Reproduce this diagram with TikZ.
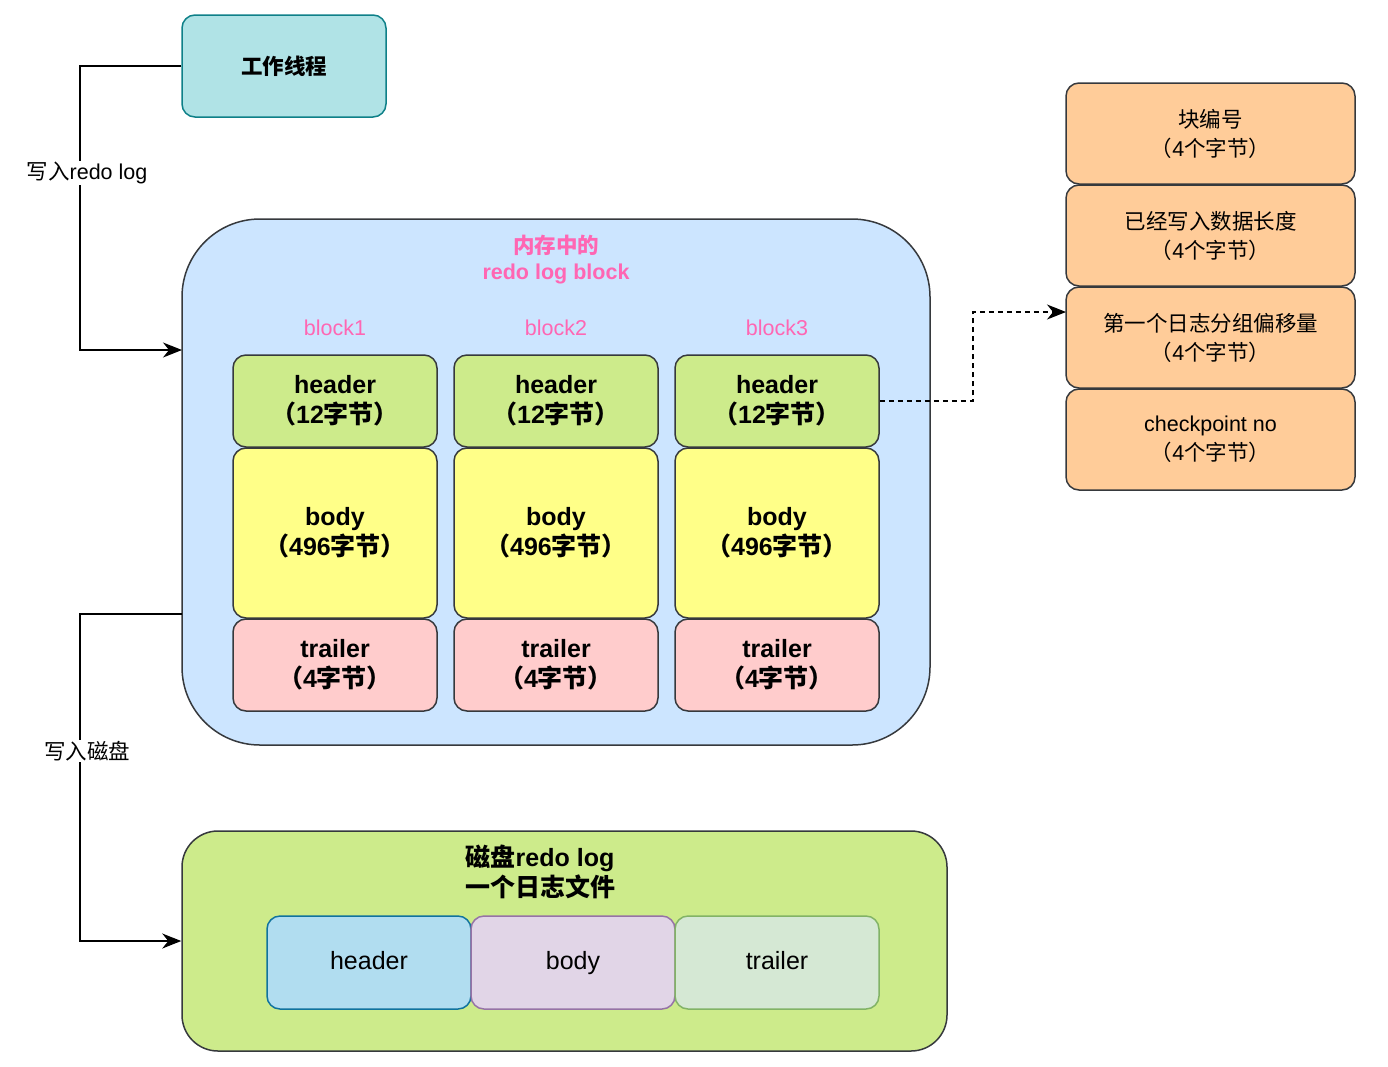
\documentclass[tikz,border=0pt]{standalone}
\usepackage{fontspec}
\setmainfont{Liberation Sans}
\newfontfamily\cj{Noto Sans CJK SC}
\usetikzlibrary{positioning,arrows.meta}

\definecolor{edge}{HTML}{36393D}
\definecolor{workfill}{HTML}{B0E3E6}
\definecolor{workedge}{HTML}{0E8088}
\definecolor{memfill}{HTML}{CCE5FF}
\definecolor{pinktext}{HTML}{FF66B3}
\definecolor{hdrfill}{HTML}{CDEB8B}
\definecolor{bodyfill}{HTML}{FFFF88}
\definecolor{trlfill}{HTML}{FFCCCC}
\definecolor{fieldfill}{HTML}{FFCC99}
\definecolor{dhfill}{HTML}{B1DDF0}
\definecolor{dhedge}{HTML}{10739E}
\definecolor{dbfill}{HTML}{E1D5E7}
\definecolor{dbedge}{HTML}{9673A6}
\definecolor{dtfill}{HTML}{D5E8D4}
\definecolor{dtedge}{HTML}{82B366}

\begin{document}
\begin{tikzpicture}[
		x=1pt, y=-1pt,
		box/.style={rectangle, draw=edge, line width=1.5pt, rounded corners=13pt, align=center, inner sep=0pt},
		lbl/.style={align=center, inner sep=1pt},
		bigfont/.style={font=\fontsize{25}{30}\selectfont\bfseries},
		smallfont/.style={font=\fontsize{21.5}{29}\selectfont},
		cell/.style={box, minimum width=204pt},
		diskcell/.style={cell, minimum height=93pt, text height=18pt, text depth=5pt, font=\fontsize{25}{30}\selectfont},
		field/.style={box, fill=fieldfill, minimum width=289pt, minimum height=101pt, smallfont},
		flow/.style={line width=1.5pt, -{Stealth[length=19pt, width=15pt, inset=6pt]}}
	]
  \useasboundingbox (0,0) rectangle (1388,1066);

  % thread
  \node (worker) [box, fill=workfill, draw=workedge, minimum width=204pt, minimum height=102pt, font=\fontsize{21.5}{29}\selectfont\bfseries] at (284,66) {{\cj 工作线程}};

  % memory
  \node (mem) [box, fill=memfill, rounded corners=78pt, minimum width=748pt, minimum height=526pt] at (556,482) {};
  \node (mem_title) [lbl, text=pinktext, font=\fontsize{21.5}{26}\selectfont\bfseries] at (556,260) {{\cj 内存中的}\\redo log block};
  \foreach \i/\x in {1/335,2/556,3/777} {
    \node (blk\i) [lbl, text=pinktext, smallfont] at (\x,328) {block\i};
    \node (hdr\i) [cell, fill=hdrfill, minimum height=92pt, bigfont] at (\x,401) {header\\{\cj （}12{\cj 字节）}};
    \node (body\i) [cell, fill=bodyfill, minimum height=170pt, bigfont] at (\x,533) {body\\{\cj （}496{\cj 字节）}};
    \node (trl\i) [cell, fill=trlfill, minimum height=92pt, bigfont] at (\x,665) {trailer\\{\cj （}4{\cj 字节）}};
  }

  % header fields
  \node (fld1) [field] at (1210.5,133.5) {{\cj 块编号}\\{\cj （}4{\cj 个字节）}};
  \node (fld2) [field] at (1210.5,235.5) {{\cj 已经写入数据长度}\\{\cj （}4{\cj 个字节）}};
  \node (fld3) [field] at (1210.5,337.5) {{\cj 第一个日志分组偏移量}\\{\cj （}4{\cj 个字节）}};
  \node (fld4) [field] at (1210.5,439.5) {checkpoint no\\{\cj （}4{\cj 个字节）}};

  % disk
  \node (disk) [box, fill=hdrfill, rounded corners=36pt, minimum width=765pt, minimum height=220pt] at (564.5,941) {};
  \node (disk_title) [lbl, bigfont] at (540,872) {{\cj 磁盘}redo log\\{\cj 一个日志文件}};
  \node (dhdr) [diskcell, fill=dhfill, draw=dhedge] at (369,962.5) {header};
  \node (dbody) [diskcell, fill=dbfill, draw=dbedge] at (573,962.5) {body};
  \node (dtrl) [diskcell, fill=dtfill, draw=dtedge] at (777,962.5) {trailer};

  \coordinate (mem_in) at (182,350);
  \coordinate (mem_out) at (182,614);
  \coordinate (fld_in) at (1066,312);

  \draw [flow] (worker.west) -| (80,200) |- (mem_in);
  \node (write_log) [lbl, fill=white, smallfont] at (87,173) {{\cj 写入}redo log};
  \draw [flow] (mem_out) -| (80,800) |- (disk.west);
  \node (write_disk) [lbl, fill=white, smallfont] at (87,751) {{\cj 写入磁盘}};
  \draw [flow, line width=1.3pt, dash pattern=on 5pt off 4pt] (hdr3.east) -| (973,356) |- (fld_in);
\end{tikzpicture}
\end{document}
